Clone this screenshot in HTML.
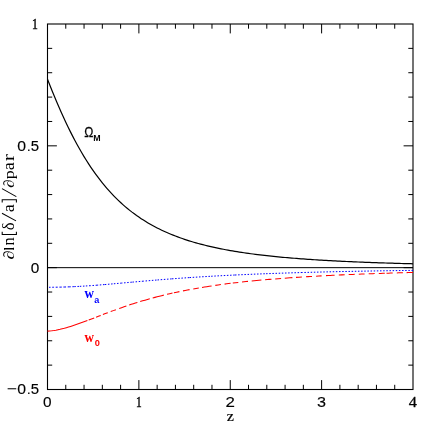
<!DOCTYPE html>
<html><head><meta charset="utf-8"><title>plot</title>
<style>
html,body{margin:0;padding:0;background:#fff;}
body{width:436px;height:436px;overflow:hidden;}
svg{display:block;}
text{font-family:"Liberation Serif",serif;fill:#000;}
.n{font-family:"Liberation Sans",sans-serif;font-size:14px;}
.s{font-family:"Liberation Serif",serif;font-size:14.8px;}
</style></head><body>
<svg width="436" height="436" viewBox="0 0 436 436" role="img" aria-label="Growth factor derivatives versus redshift z">
<rect width="436" height="436" fill="#fff"/>
<rect x="47.5" y="24.0" width="365.5" height="365.5" fill="none" stroke="#000" stroke-width="1.1"/>
<path d="M65.78,389.50v-4.70M65.78,24.00v4.70M84.05,389.50v-4.70M84.05,24.00v4.70M102.33,389.50v-4.70M102.33,24.00v4.70M120.60,389.50v-4.70M120.60,24.00v4.70M138.88,389.50v-9.40M138.88,24.00v9.40M157.15,389.50v-4.70M157.15,24.00v4.70M175.43,389.50v-4.70M175.43,24.00v4.70M193.70,389.50v-4.70M193.70,24.00v4.70M211.98,389.50v-4.70M211.98,24.00v4.70M230.25,389.50v-9.40M230.25,24.00v9.40M248.53,389.50v-4.70M248.53,24.00v4.70M266.80,389.50v-4.70M266.80,24.00v4.70M285.08,389.50v-4.70M285.08,24.00v4.70M303.35,389.50v-4.70M303.35,24.00v4.70M321.62,389.50v-9.40M321.62,24.00v9.40M339.90,389.50v-4.70M339.90,24.00v4.70M358.18,389.50v-4.70M358.18,24.00v4.70M376.45,389.50v-4.70M376.45,24.00v4.70M394.73,389.50v-4.70M394.73,24.00v4.70M47.50,365.13h4.70M413.00,365.13h-4.70M47.50,340.77h4.70M413.00,340.77h-4.70M47.50,316.40h4.70M413.00,316.40h-4.70M47.50,292.03h4.70M413.00,292.03h-4.70M47.50,267.67h9.40M413.00,267.67h-9.40M47.50,243.30h4.70M413.00,243.30h-4.70M47.50,218.93h4.70M413.00,218.93h-4.70M47.50,194.57h4.70M413.00,194.57h-4.70M47.50,170.20h4.70M413.00,170.20h-4.70M47.50,145.83h9.40M413.00,145.83h-9.40M47.50,121.47h4.70M413.00,121.47h-4.70M47.50,97.10h4.70M413.00,97.10h-4.70M47.50,72.73h4.70M413.00,72.73h-4.70M47.50,48.37h4.70M413.00,48.37h-4.70" stroke="#000" stroke-width="1" fill="none"/>
<path d="M47.5,267.67H413.0" stroke="#000" stroke-width="1.0" fill="none"/>
<path d="M47.50,79.21 L49.78,85.03 L52.07,90.73 L54.35,96.30 L56.64,101.75 L58.92,107.07 L61.21,112.25 L63.49,117.30 L65.78,122.21 L68.06,126.98 L70.34,131.61 L72.63,136.11 L74.91,140.47 L77.20,144.70 L79.48,148.79 L81.77,152.75 L84.05,156.58 L86.33,160.28 L88.62,163.86 L90.90,167.32 L93.19,170.66 L95.47,173.88 L97.76,176.98 L100.04,179.98 L102.33,182.87 L104.61,185.66 L106.89,188.34 L109.18,190.93 L111.46,193.42 L113.75,195.83 L116.03,198.14 L118.32,200.37 L120.60,202.52 L122.88,204.59 L125.17,206.58 L127.45,208.50 L129.74,210.35 L132.02,212.14 L134.31,213.85 L136.59,215.51 L138.88,217.10 L141.16,218.63 L143.44,220.11 L145.73,221.54 L148.01,222.91 L150.30,224.24 L152.58,225.52 L154.87,226.75 L157.15,227.94 L159.43,229.08 L161.72,230.19 L164.00,231.25 L166.29,232.28 L168.57,233.27 L170.86,234.23 L173.14,235.16 L175.43,236.05 L177.71,236.92 L179.99,237.75 L182.28,238.55 L184.56,239.33 L186.85,240.09 L189.13,240.81 L191.42,241.52 L193.70,242.20 L195.98,242.85 L198.27,243.49 L200.55,244.10 L202.84,244.70 L205.12,245.28 L207.41,245.84 L209.69,246.38 L211.97,246.90 L214.26,247.41 L216.54,247.90 L218.83,248.37 L221.11,248.84 L223.40,249.28 L225.68,249.72 L227.97,250.14 L230.25,250.55 L232.53,250.94 L234.82,251.33 L237.10,251.70 L239.39,252.06 L241.67,252.41 L243.96,252.75 L246.24,253.09 L248.53,253.41 L250.81,253.72 L253.09,254.02 L255.38,254.32 L257.66,254.61 L259.95,254.89 L262.23,255.16 L264.52,255.42 L266.80,255.68 L269.08,255.93 L271.37,256.17 L273.65,256.41 L275.94,256.64 L278.22,256.86 L280.51,257.08 L282.79,257.29 L285.08,257.50 L287.36,257.70 L289.64,257.90 L291.93,258.09 L294.21,258.27 L296.50,258.45 L298.78,258.63 L301.07,258.80 L303.35,258.97 L305.63,259.14 L307.92,259.30 L310.20,259.45 L312.49,259.61 L314.77,259.75 L317.06,259.90 L319.34,260.04 L321.62,260.18 L323.91,260.31 L326.19,260.45 L328.48,260.58 L330.76,260.70 L333.05,260.82 L335.33,260.94 L337.62,261.06 L339.90,261.18 L342.18,261.29 L344.47,261.40 L346.75,261.50 L349.04,261.61 L351.32,261.71 L353.61,261.81 L355.89,261.91 L358.18,262.00 L360.46,262.10 L362.74,262.19 L365.03,262.28 L367.31,262.37 L369.60,262.45 L371.88,262.54 L374.17,262.62 L376.45,262.70 L378.73,262.78 L381.02,262.85 L383.30,262.93 L385.59,263.00 L387.87,263.08 L390.16,263.15 L392.44,263.22 L394.73,263.28 L397.01,263.35 L399.29,263.42 L401.58,263.48 L403.86,263.54 L406.15,263.60 L408.43,263.67 L410.72,263.72 L413.00,263.78" stroke="#000" stroke-width="1.2" fill="none" stroke-linejoin="round"/>
<path d="M411.50,270.40 L413.00,270.38 M408.35,270.44 L409.85,270.42 M405.20,270.48 L406.70,270.46 M402.05,270.53 L403.55,270.50 M398.90,270.57 L400.40,270.55 M395.75,270.62 L397.25,270.59 M392.60,270.66 L394.10,270.64 M389.45,270.71 L390.95,270.69 M386.30,270.76 L387.80,270.73 M383.15,270.81 L384.65,270.78 M380.00,270.86 L381.50,270.83 M376.85,270.91 L378.35,270.88 M373.70,270.96 L375.20,270.94 M370.55,271.02 L372.05,270.99 M367.40,271.07 L368.90,271.04 M364.25,271.13 L365.75,271.10 M361.10,271.18 L362.60,271.16 M357.95,271.24 L359.45,271.21 M354.80,271.30 L356.30,271.27 M351.65,271.36 L353.15,271.33 M348.48,271.43 L349.98,271.40 M345.33,271.49 L346.83,271.46 M342.18,271.56 L343.68,271.53 M339.03,271.62 L340.53,271.59 M335.88,271.69 L337.38,271.66 M332.73,271.76 L334.23,271.73 M329.58,271.83 L331.08,271.80 M326.43,271.91 L327.93,271.87 M323.28,271.98 L324.78,271.95 M320.13,272.06 L321.63,272.02 M316.98,272.14 L318.48,272.10 M313.83,272.22 L315.33,272.18 M310.68,272.30 L312.18,272.26 M307.53,272.39 L309.03,272.35 M304.38,272.47 L305.88,272.43 M302.24,272.53 L302.73,272.52 M300.74,272.57 L302.24,272.53 M297.59,272.67 L299.09,272.62 M294.44,272.76 L295.94,272.71 M291.29,272.85 L292.79,272.81 M288.14,272.95 L289.64,272.91 M284.99,273.05 L286.49,273.00 M281.84,273.15 L283.34,273.11 M278.69,273.26 L280.19,273.21 M275.54,273.37 L277.04,273.32 M272.39,273.48 L273.89,273.42 M269.24,273.59 L270.74,273.54 M266.09,273.71 L267.59,273.65 M263.32,273.81 L264.82,273.75 M260.17,273.93 L261.67,273.87 M257.02,274.06 L258.52,274.00 M253.87,274.18 L255.37,274.12 M250.72,274.31 L252.22,274.25 M247.57,274.45 L249.07,274.38 M244.42,274.58 L245.92,274.52 M241.27,274.72 L242.77,274.66 M238.12,274.87 L239.62,274.80 M234.97,275.02 L236.47,274.94 M233.21,275.10 L234.71,275.03 M230.06,275.25 L231.56,275.18 M226.91,275.41 L228.41,275.33 M223.76,275.57 L225.26,275.49 M220.61,275.74 L222.11,275.66 M217.46,275.90 L218.96,275.82 M214.31,276.08 L215.81,275.99 M211.16,276.25 L212.66,276.17 M208.44,276.41 L209.94,276.32 M205.29,276.60 L206.79,276.51 M202.14,276.78 L203.64,276.69 M198.99,276.98 L200.49,276.89 M195.84,277.18 L197.34,277.08 M192.69,277.38 L194.19,277.28 M189.54,277.59 L191.04,277.49 M187.72,277.71 L189.22,277.61 M184.57,277.93 L186.07,277.82 M181.42,278.15 L182.92,278.04 M178.27,278.37 L179.77,278.26 M175.12,278.60 L176.62,278.49 M171.97,278.83 L173.47,278.72 M170.13,278.97 L171.63,278.86 M166.98,279.21 L168.48,279.10 M163.83,279.46 L165.33,279.34 M160.68,279.71 L162.18,279.59 M157.53,279.96 L159.03,279.84 M155.01,280.17 L156.51,280.05 M151.86,280.43 L153.36,280.31 M148.71,280.70 L150.21,280.57 M145.56,280.97 L147.06,280.84 M143.37,281.16 L143.91,281.11 M141.87,281.29 L143.37,281.16 M138.72,281.56 L140.22,281.43 M135.57,281.84 L137.07,281.71 M132.42,282.12 L133.92,281.99 M130.35,282.30 L131.85,282.17 M127.20,282.59 L128.70,282.45 M124.05,282.87 L125.55,282.73 M121.66,283.08 L122.40,283.02 M120.16,283.21 L121.66,283.08 M117.01,283.49 L118.51,283.36 M113.86,283.77 L115.36,283.64 M111.09,284.01 L112.59,283.88 M107.94,284.29 L109.44,284.16 M104.79,284.55 L106.29,284.43 M102.96,284.70 L104.46,284.58 M99.81,284.96 L101.31,284.84 M97.14,285.17 L98.16,285.09 M95.64,285.29 L97.14,285.17 M92.49,285.52 L93.99,285.41 M90.50,285.67 L90.84,285.64 M89.00,285.77 L90.50,285.67 M85.85,285.98 L87.35,285.88 M82.96,286.16 L84.46,286.07 M79.81,286.35 L81.31,286.26 M77.44,286.48 L78.94,286.40 M74.29,286.63 L75.79,286.56 M72.38,286.72 L73.88,286.65 M69.23,286.85 L70.73,286.79 M67.71,286.90 L69.21,286.85 M64.90,287.00 L66.06,286.96 M63.40,287.04 L64.90,287.00 M60.91,287.11 L61.75,287.08 M59.41,287.14 L60.91,287.11 M57.20,287.18 L57.76,287.17 M55.70,287.21 L57.20,287.18 M53.75,287.24 L54.05,287.24 M52.25,287.26 L53.75,287.24 M49.02,287.30 L50.52,287.28" stroke="#0000ff" stroke-width="1.0" fill="none"/>
<path d="M47.50,331.13 L49.60,330.99 L51.70,330.78 L53.80,330.50 L55.90,330.16 L58.00,329.76 L60.10,329.32 L62.20,328.82 L64.30,328.29 L66.40,327.71 L68.50,327.10 L70.60,326.45 L72.70,325.78 L74.80,325.08 L76.90,324.36 L79.00,323.61 L81.10,322.86 L83.20,322.08 L85.30,321.30 L87.40,320.51 M88.70,320.01 L91.45,318.96 L94.20,317.90 M96.10,317.16 L98.40,316.27 L100.70,315.39 M102.90,314.54 L105.35,313.61 L107.80,312.68 M110.70,311.59 L113.30,310.63 L115.90,309.68 M119.20,308.49 L121.60,307.64 L124.00,306.81 L126.40,305.99 M129.20,305.05 L131.25,304.37 L133.30,303.71 L135.35,303.06 L137.40,302.41 M140.20,301.55 L142.60,300.83 L145.00,300.13 L147.40,299.44 L149.80,298.76 M152.70,297.97 L154.92,297.38 L157.14,296.79 L159.36,296.22 L161.58,295.67 L163.80,295.12 M167.00,294.36 L169.75,293.72 L172.50,293.10 M173.90,292.79 L176.65,292.19 L179.40,291.62 M183.00,290.88 L185.20,290.45 L187.40,290.02 L189.60,289.61 M193.30,288.93 L196.05,288.44 L198.80,287.97 M202.00,287.43 L204.40,287.04 L206.80,286.66 L209.20,286.29 L211.60,285.93 M215.30,285.38 L218.10,284.99 L220.90,284.60 M224.60,284.11 L226.60,283.85 L228.60,283.60 L230.60,283.35 M232.80,283.08 L235.55,282.75 L238.30,282.44 M242.00,282.02 L244.00,281.80 L246.00,281.59 L248.00,281.38 M251.70,281.00 L254.13,280.76 L256.55,280.53 L258.97,280.30 L261.40,280.08 M265.10,279.75 L267.23,279.56 L269.37,279.38 L271.50,279.20 M275.20,278.90 L278.15,278.67 L281.10,278.44 M284.80,278.17 L287.33,277.98 L289.87,277.80 L292.40,277.63 M296.00,277.39 L298.95,277.19 L301.90,277.01 M306.00,276.75 L308.00,276.63 L310.00,276.52 L312.00,276.40 M316.10,276.17 L318.85,276.02 L321.60,275.87 M326.00,275.64 L328.15,275.54 L330.30,275.43 L332.45,275.32 L334.60,275.22 M338.80,275.03 L341.75,274.89 L344.70,274.76 M348.70,274.59 L350.73,274.51 L352.77,274.42 L354.80,274.34 M358.80,274.18 L361.70,274.07 L364.60,273.96 M368.70,273.81 L370.70,273.74 L372.70,273.67 L374.70,273.60 M378.80,273.46 L380.80,273.40 L382.80,273.33 L384.80,273.27 M386.50,273.22 L388.57,273.15 L390.63,273.09 L392.70,273.03 M396.80,272.91 L398.83,272.85 L400.87,272.79 L402.90,272.73 M406.60,272.63 L408.73,272.57 L410.87,272.52 L413.00,272.46" stroke="#ff0000" stroke-width="1.05" fill="none" stroke-linejoin="round"/>
<g opacity="0.999">
<text transform="matrix(0.9035 0 0 1.1068 31.946 28.700)" style="font-family:'Liberation Serif';font-weight:normal;font-size:12.9659px;fill:#000;stroke:#000;stroke-width:0.4px">1</text>
<text transform="matrix(1.0535 0 0 0.9492 17.268 150.758)" style="font-family:'Liberation Sans';font-weight:normal;font-size:14.987px;fill:#000;stroke:#000;stroke-width:0.15px">0</text>
<text transform="matrix(1.0513 0 0 0.9512 26.874 150.900)" style="font-family:'Liberation Sans';font-weight:normal;font-size:14.0175px;fill:#000">.</text>
<text transform="matrix(1.0178 0 0 0.9825 30.802 150.756)" style="font-family:'Liberation Sans';font-weight:normal;font-size:14.6857px;fill:#000;stroke:#000;stroke-width:0.15px">5</text>
<text transform="matrix(1.0535 0 0 0.9492 17.268 394.158)" style="font-family:'Liberation Sans';font-weight:normal;font-size:14.987px;fill:#000;stroke:#000;stroke-width:0.15px">0</text>
<text transform="matrix(1.0513 0 0 0.9512 26.874 394.300)" style="font-family:'Liberation Sans';font-weight:normal;font-size:14.0175px;fill:#000">.</text>
<text transform="matrix(1.0178 0 0 0.9825 30.802 394.156)" style="font-family:'Liberation Sans';font-weight:normal;font-size:14.6857px;fill:#000;stroke:#000;stroke-width:0.15px">5</text>
<text transform="matrix(1.0821 0 0 0.9241 6.713 394.323)" style="font-family:'Liberation Sans';font-weight:normal;font-size:16.3864px;fill:#000">−</text>
<text transform="matrix(1.0343 0 0 0.9668 30.685 272.556)" style="font-family:'Liberation Sans';font-weight:normal;font-size:14.8589px;fill:#000;stroke:#000;stroke-width:0.15px">0</text>
<text transform="matrix(1.0394 0 0 0.9621 43.085 406.758)" style="font-family:'Liberation Sans';font-weight:normal;font-size:14.7858px;fill:#000;stroke:#000;stroke-width:0.15px">0</text>
<text transform="matrix(0.8740 0 0 1.1442 136.071 406.800)" style="font-family:'Liberation Serif';font-weight:normal;font-size:13.0764px;fill:#000;stroke:#000;stroke-width:0.4px">1</text>
<text transform="matrix(1.0830 0 0 0.9234 225.454 407.000)" style="font-family:'Liberation Sans';font-weight:normal;font-size:15.6261px;fill:#000;stroke:#000;stroke-width:0.15px">2</text>
<text transform="matrix(1.0558 0 0 0.9472 317.053 406.755)" style="font-family:'Liberation Sans';font-weight:normal;font-size:15.3161px;fill:#000;stroke:#000;stroke-width:0.15px">3</text>
<text transform="matrix(1.0412 0 0 0.9605 408.773 406.875)" style="font-family:'Liberation Serif';font-weight:normal;font-size:15.6977px;fill:#000;stroke:#000;stroke-width:0.3px">4</text>
<text transform="matrix(1.0692 0 0 0.9353 226.796 420.600)" style="font-family:'Liberation Serif';font-weight:normal;font-size:15.1083px;fill:#000;stroke:#000;stroke-width:0.22px">z</text>
<text transform="matrix(0.9223 0 0 1.0843 84.148 136.700)" style="font-family:'Liberation Sans';font-weight:normal;font-size:13.3071px;fill:#000;stroke:#000;stroke-width:0.25px">Ω</text>
<text transform="matrix(0.9772 0 0 1.0233 93.224 140.700)" style="font-family:'Liberation Sans';font-weight:bold;font-size:9.06384px;fill:#000">M</text>
<text transform="matrix(0.9680 0 0 1.0330 84.535 297.560)" style="font-family:'Liberation Serif';font-weight:bold;font-size:13.5314px;fill:#0000ff">w</text>
<text transform="matrix(0.9883 0 0 1.0119 94.328 302.707)" style="font-family:'Liberation Sans';font-weight:bold;font-size:9.16403px;fill:#0000ff">a</text>
<text transform="matrix(0.9755 0 0 1.0251 84.535 341.662)" style="font-family:'Liberation Serif';font-weight:bold;font-size:13.4269px;fill:#ff0000">w</text>
<text transform="matrix(0.9908 0 0 1.0093 94.629 346.006)" style="font-family:'Liberation Sans';font-weight:bold;font-size:9.34949px;fill:#ff0000">0</text>
<g aria-label="∂ln[δ/a]/∂par" transform="translate(13.8,259) rotate(-90)"><text transform="matrix(1.1144 0 0 0.8973 -0.542 -0.021)" style="font-family:'Liberation Serif';font-weight:normal;font-size:16.451px;fill:#000">∂</text><text transform="matrix(0.8215 0 0 1.2173 8.692 0.000)" style="font-family:'Liberation Serif';font-weight:bold;font-size:12.6799px;fill:#000">l</text><text transform="matrix(1.0054 0 0 0.9946 13.392 0.081)" style="font-family:'Liberation Serif';font-weight:normal;font-size:16.2165px;fill:#000">n</text><path d="M27.3,-11.6H24.5V2.6H27.3" fill="none" stroke="#000" stroke-width="1.05"/><text transform="matrix(1.0302 0 0 0.9707 28.832 0.043)" style="font-family:'Liberation Serif';font-weight:normal;font-size:16.2196px;fill:#000">δ</text><path d="M38.1,2.2L45.8,-11.8" fill="none" stroke="#000" stroke-width="1.05"/><text transform="matrix(1.0604 0 0 0.9430 46.862 0.038)" style="font-family:'Liberation Serif';font-weight:normal;font-size:17.1896px;fill:#000">a</text><path d="M56.4,-11.6H59.3V2.6H56.4" fill="none" stroke="#000" stroke-width="1.05"/><path d="M62.4,2.5L70.4,-11.8" fill="none" stroke="#000" stroke-width="1.05"/><text transform="matrix(1.0549 0 0 0.9479 71.225 -0.021)" style="font-family:'Liberation Serif';font-weight:normal;font-size:15.573px;fill:#000">∂</text><text transform="matrix(1.0739 0 0 0.9312 79.830 -0.174)" style="font-family:'Liberation Serif';font-weight:normal;font-size:16.7403px;fill:#000">p</text><text transform="matrix(1.0604 0 0 0.9430 88.862 0.038)" style="font-family:'Liberation Serif';font-weight:normal;font-size:17.1896px;fill:#000">a</text><text transform="matrix(1.1645 0 0 0.8587 97.667 0.000)" style="font-family:'Liberation Serif';font-weight:normal;font-size:18.5825px;fill:#000">r</text></g>
</g>
</svg>
</body></html>
